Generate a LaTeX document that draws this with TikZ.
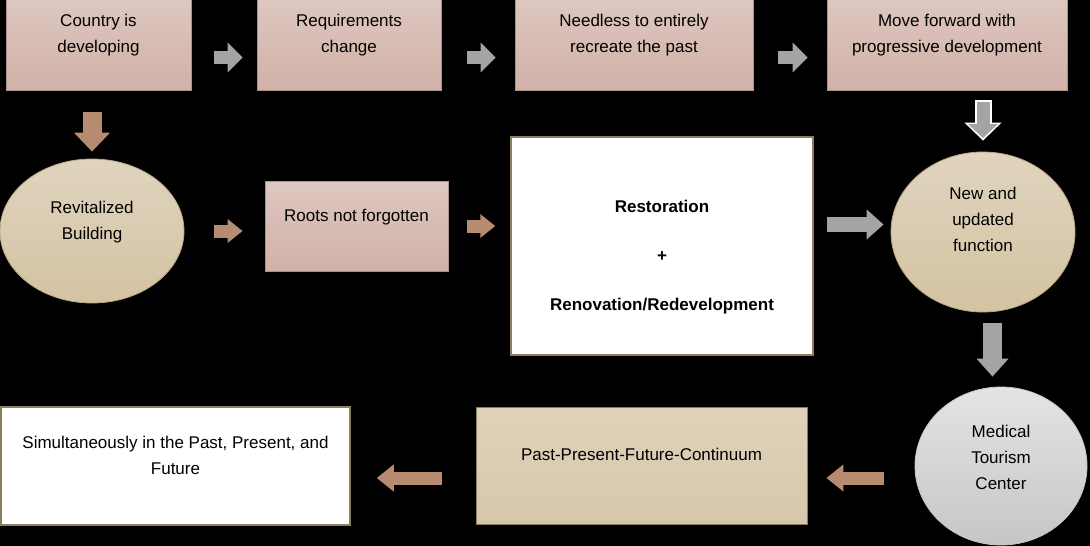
\documentclass[tikz,border=0pt]{standalone}
\usepackage{fontspec}
\setmainfont{Liberation Sans}
\usetikzlibrary{arrows.meta,shapes.geometric}

\definecolor{pinktop}{HTML}{DDC7C0}
\definecolor{pinkbot}{HTML}{D1B1A7}
\definecolor{pinkline}{HTML}{A8938B}
\definecolor{tantop}{HTML}{E0D4BF}
\definecolor{tanbot}{HTML}{D3C3A2}
\definecolor{tanline}{HTML}{BBA783}
\definecolor{boxtop}{HTML}{DED2BA}
\definecolor{boxbot}{HTML}{D6C8AB}
\definecolor{graytop}{HTML}{E4E4E4}
\definecolor{graybot}{HTML}{C6C6C6}
\definecolor{frameline}{HTML}{8A7F58}
\definecolor{arrowgray}{HTML}{A4A4A4}
\definecolor{arrowbrown}{HTML}{B68B70}

\begin{document}
\begin{tikzpicture}[x=1pt,y=-1pt,
    every node/.style={font=\fontsize{17}{26}\selectfont},
    pinkbox/.style={rectangle, draw=pinkline, line width=0.8pt, top color=pinktop, bottom color=pinkbot, inner sep=0pt},
    tanbox/.style={rectangle, draw=frameline, line width=0.8pt, top color=boxtop, bottom color=boxbot, inner sep=0pt},
    tanoval/.style={ellipse, draw=tanline, line width=0.8pt, top color=tantop, bottom color=tanbot, inner sep=0pt},
    grayoval/.style={ellipse, draw=graybot, line width=0.8pt, top color=graytop, bottom color=graybot, inner sep=0pt},
    whitebox/.style={rectangle, draw=frameline, line width=1.5pt, fill=white, inner sep=0pt},
    txt/.style={align=center, inner sep=0pt},
    block/.style n args={3}{line width=#1, -{Triangle[length=#3, width=#2]}},
    garrow/.style={draw=arrowgray},
    barrow/.style={draw=arrowbrown}]
    % Background
    \useasboundingbox (0,0) rectangle (1090,546);
    \fill[black] (0,0) rectangle (1090,546);

    % Top row
    \node[pinkbox, minimum width=185pt, minimum height=92pt] (country) at (98.5,44) {};
    \node[pinkbox, minimum width=184pt, minimum height=92pt] (require) at (349,44) {};
    \node[pinkbox, minimum width=238pt, minimum height=92pt] (needless) at (634,44) {};
    \node[pinkbox, minimum width=240pt, minimum height=92pt] (forward) at (947,44) {};
    \node[txt] (country-t) at ([yshift=9pt]country) {Country is\\developing};
    \node[txt] (require-t) at ([yshift=9pt]require) {Requirements\\change};
    \node[txt] (needless-t) at ([yshift=9pt]needless) {Needless to entirely\\recreate the past};
    \node[txt] (forward-t) at ([yshift=9pt]forward) {Move forward with\\progressive development};

    % Middle row
    \node[tanoval, minimum width=184pt, minimum height=144pt] (revital) at (92,231) {};
    \node[pinkbox, minimum width=183pt, minimum height=90pt] (roots) at (356.5,226) {};
    \node[whitebox, minimum width=302pt, minimum height=218pt] (restore) at (662,246) {};
    \node[tanoval, minimum width=184pt, minimum height=160pt] (newfn) at (983,232) {};
    \node[txt] (revital-t) at ([yshift=9pt]revital) {Revitalized\\Building};
    \node[txt] (roots-t) at ([yshift=9pt]roots) {Roots not forgotten};
    \node[txt, font=\fontsize{17}{26}\selectfont\bfseries] (restore-t) at ([yshift=-11pt]restore)
        {Restoration\\[23pt]+\\[23pt]Renovation/Redevelopment};
    \node[txt] (newfn-t) at ([yshift=13pt]newfn) {New and\\updated\\function};

    % Bottom row
    \node[grayoval, minimum width=172pt, minimum height=158pt] (medical) at (1001,466) {};
    \node[tanbox, minimum width=331pt, minimum height=117pt] (continuum) at (641.5,466) {};
    \node[whitebox, minimum width=349pt, minimum height=118pt] (simul) at (175.5,466) {};
    \node[txt] (medical-t) at ([yshift=9pt]medical) {Medical\\Tourism\\Center};
    \node[txt] (continuum-t) at ([yshift=12pt]continuum) {Past-Present-Future-Continuum};
    \node[txt] (simul-t) at ([yshift=11pt]simul) {Simultaneously in the Past, Present, and\\Future};

    % Block arrows
    \draw[garrow, block={13pt}{29pt}{15pt}, shorten <=23pt, shorten >=14pt]
        ([yshift=-13.5pt]country.east) -- ([yshift=-13.5pt]require.west);
    \draw[garrow, block={13pt}{29pt}{15pt}, shorten <=26pt, shorten >=19pt]
        ([yshift=-13.5pt]require.east) -- ([yshift=-13.5pt]needless.west);
    \draw[garrow, block={13pt}{29pt}{15pt}, shorten <=25pt, shorten >=19pt]
        ([yshift=-13.5pt]needless.east) -- ([yshift=-13.5pt]forward.west);
    \draw[barrow, block={19pt}{35pt}{19pt}, shorten <=22pt, shorten >=7pt]
        (revital.north |- country.south) -- (revital.north);
    \draw[barrow, block={13pt}{23pt}{15pt}, shorten <=30pt, shorten >=22pt]
        (revital.east) -- (revital.east -| roots.west);
    \draw[barrow, block={13pt}{23pt}{15pt}, shorten <=19pt, shorten >=15pt]
        (roots.east) -- (roots.east -| restore.west);
    \coordinate (g7) at ([yshift=7.5pt]newfn.west);
    \draw[garrow, block={15pt}{29pt}{17pt}, shorten <=13pt, shorten >=7pt]
        (g7 -| restore.east) -- (g7);
    \draw[draw=white, block={17pt}{36pt}{18pt}, shorten <=10pt, shorten >=11pt]
        (newfn.north |- forward.south) -- (newfn.north);
    \draw[garrow, block={13pt}{29pt}{14pt}, shorten <=12pt, shorten >=13.5pt]
        (newfn.north |- forward.south) -- (newfn.north);
    \coordinate (d9) at ([xshift=9.5pt]newfn.south);
    \draw[garrow, block={19pt}{31pt}{18pt}, shorten <=11pt, shorten >=10pt]
        (d9) -- (d9 |- medical.north);
    \draw[barrow, block={13pt}{26pt}{17pt}, shorten <=31pt, shorten >=19pt]
        ([yshift=-12pt]medical.west) -- ([yshift=-12pt]continuum.east);
    \draw[barrow, block={13pt}{26pt}{17pt}, shorten <=34pt, shorten >=26pt]
        ([yshift=-12pt]continuum.west) -- ([yshift=-12pt]simul.east);
\end{tikzpicture}
\end{document}
